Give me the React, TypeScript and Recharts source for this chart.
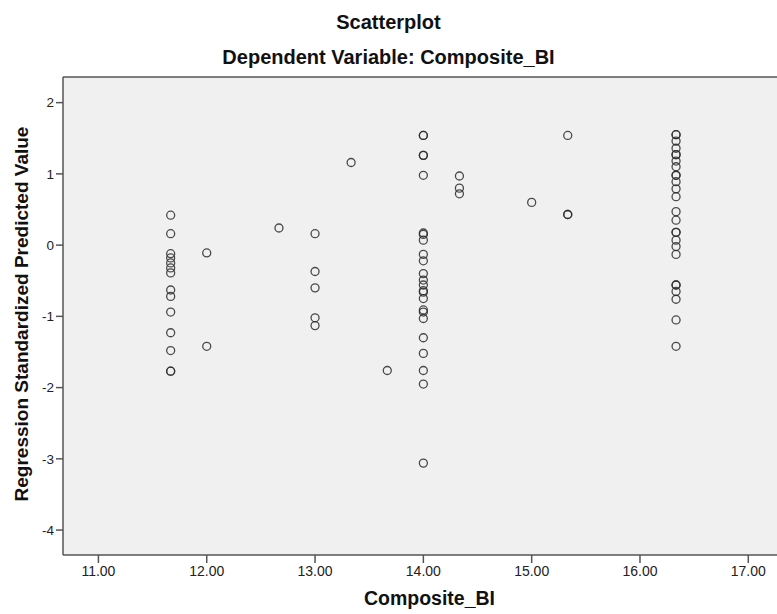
import React from 'react';
import { ScatterChart, Scatter, XAxis, YAxis, CartesianGrid, ReferenceLine } from 'recharts';

// observed Composite_BI levels (x) and predicted values at each level (y)
const col1167 = [0.42, 0.16, -0.12, -0.18, -0.25, -0.32, -0.39, -0.63, -0.72, -0.94, -1.23, -1.48, -1.77, -1.77];
const col1200 = [-0.11, -1.42];
const col1267 = [0.24];
const col1300 = [0.16, -0.37, -0.6, -1.02, -1.13];
const col1333 = [1.16];
const col1367 = [-1.76];
const col1400 = [
  1.54, 1.54, 1.26, 1.26, 0.98, 0.17, 0.15, 0.07, -0.13, -0.22, -0.4, -0.49, -0.56,
  -0.64, -0.66, -0.75, -0.91, -0.94, -1.03, -1.3, -1.52, -1.76, -1.95, -3.06,
];
const col1433 = [0.97, 0.8, 0.72];
const col1500 = [0.6];
const col1533 = [1.54, 0.43, 0.43];
const col1633 = [
  1.55, 1.55, 1.46, 1.36, 1.27, 1.27, 1.18, 1.1, 0.98, 0.98, 0.89, 0.79, 0.68, 0.47, 0.35,
  0.18, 0.18, 0.07, -0.02, -0.13, -0.56, -0.56, -0.65, -0.76, -1.05, -1.42,
];

const levels: [number, number[]][] = [
  [11.667, col1167],
  [12.0, col1200],
  [12.667, col1267],
  [13.0, col1300],
  [13.333, col1333],
  [13.667, col1367],
  [14.0, col1400],
  [14.333, col1433],
  [15.0, col1500],
  [15.333, col1533],
  [16.333, col1633],
];

const xTicks = [11, 12, 13, 14, 15, 16, 17];
const yTicks = [-4, -3, -2, -1, 0, 1, 2];
const xDomain: [number, number] = [10.673, 17.265];
const yDomain: [number, number] = [-4.35, 2.36];

const points = levels.flatMap(([x, ys]) => ys.map((y) => ({ x, y })));

const font = '"Liberation Sans", Arial, sans-serif';
const titleStyle: React.CSSProperties = {
  position: 'absolute',
  width: 777,
  textAlign: 'center',
  fontSize: 20,
  lineHeight: '20px',
  fontWeight: 'bold',
  color: '#111',
};

const Ring = (props: any) => {
  const { cx, cy } = props;
  if (cx == null || cy == null) return null;
  return <circle cx={cx} cy={cy} r={4} fill="none" stroke="#2b2b2b" strokeWidth={1.3} strokeOpacity={0.85} />;
};

export default function App() {
  return (
    <div style={{ position: 'absolute', left: 0, top: 0, width: 777, height: 614, background: '#fff', fontFamily: font, overflow: 'hidden' }}>
      <div style={{ ...titleStyle, top: 12 }}>Scatterplot</div>
      <div style={{ ...titleStyle, top: 47 }}>Dependent Variable: Composite_BI</div>
      <ScatterChart width={777} height={614} margin={{ top: 77, right: 0, left: 13, bottom: 29 }}>
        <CartesianGrid fill="#f0f0f0" horizontal={false} vertical={false} />
        <XAxis
          type="number"
          dataKey="x"
          domain={xDomain}
          ticks={xTicks}
          tickFormatter={(v) => v.toFixed(2)}
          allowDataOverflow
          height={30}
          stroke="#555"
          strokeWidth={1.5}
          tickSize={8}
          tickMargin={3}
          tick={{ fill: '#222', fontSize: 14, fontFamily: font }}
        />
        <YAxis
          type="number"
          dataKey="y"
          domain={yDomain}
          ticks={yTicks}
          allowDataOverflow
          width={50}
          stroke="#555"
          strokeWidth={1.5}
          tickSize={7}
          tickMargin={2}
          tick={{ fill: '#222', fontSize: 13.5, fontFamily: font }}
        />
        <ReferenceLine y={yDomain[1]} stroke="#555" strokeWidth={1.5} />
        <Scatter data={points} shape={<Ring />} isAnimationActive={false} />
      </ScatterChart>
      <div style={{ ...titleStyle, top: 588, left: 41, fontSize: 19.5 }}>Composite_BI</div>
      <div
        style={{
          position: 'absolute',
          left: 22,
          top: 314,
          transform: 'translate(-50%, -50%) rotate(-90deg)',
          whiteSpace: 'nowrap',
          fontSize: 19,
          lineHeight: '20px',
          fontWeight: 'bold',
          color: '#111',
        }}
      >
        Regression Standardized Predicted Value
      </div>
    </div>
  );
}
